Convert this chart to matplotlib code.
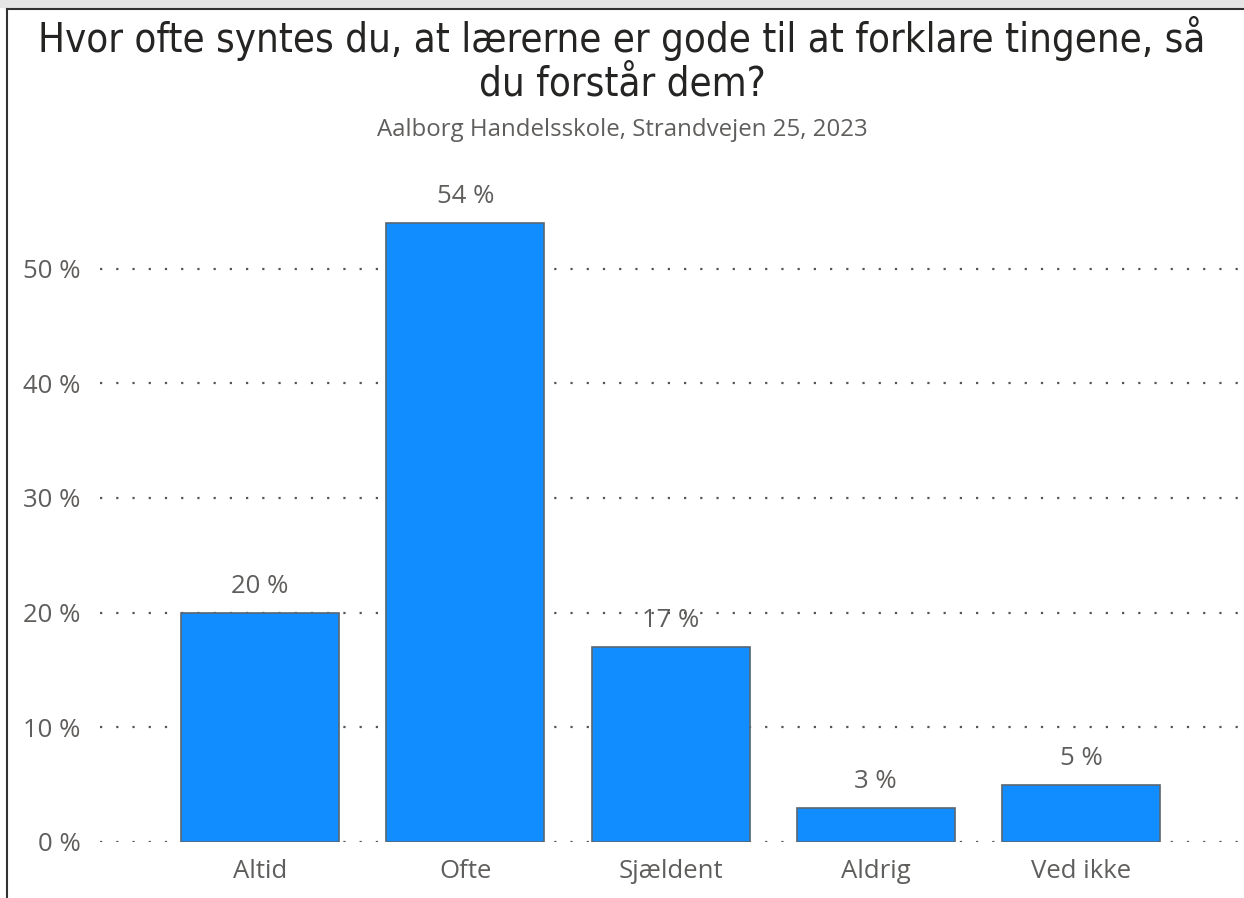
import matplotlib
matplotlib.use('Agg')
import matplotlib.pyplot as plt
from matplotlib.lines import Line2D
from matplotlib.patches import Rectangle

# data
categories = ["Altid", "Ofte", "Sjældent", "Aldrig", "Ved ikke"]
values = [20, 54, 17, 3, 5]
yticks = [0, 10, 20, 30, 40, 50]

title = "Hvor ofte syntes du, at lærerne er gode til at forklare tingene, så\ndu forstår dem?"
subtitle = "Aalborg Handelsskole, Strandvejen 25, 2023"

plt.rcParams['font.family'] = ['Open Sans', 'DejaVu Sans']
grey = "#605E5C"

fig = plt.figure(figsize=(12.44, 8.98), dpi=100)
ax = fig.add_axes([0.0804, 0.0624, 0.9164, 0.7406])

x = range(len(categories))
ax.bar(x, values, width=0.77, color="#118DFF", edgecolor="#5A6670", linewidth=1.2, zorder=3)
for i, v in enumerate(values):
    ax.annotate("%d %%" % v, (i, v), xytext=(0, 19), textcoords="offset points",
                ha="center", va="center", fontsize=18.5, color=grey)

ax.set_xlim(-0.78, 4.775)
ax.set_ylim(0, 58)
ax.set_yticks(yticks)
ax.set_yticklabels(["%d %%" % t for t in yticks], fontsize=18.5, color=grey)
ax.set_xticks(list(x))
ax.set_xticklabels(categories, fontsize=18.5, color=grey)
ax.tick_params(length=0)
ax.tick_params(axis='x', pad=12)
ax.tick_params(axis='y', pad=14)
ax.grid(axis='y', color="#555555", linestyle=(0, (1, 6.3)), linewidth=1.6, zorder=0)
for s in ax.spines.values():
    s.set_visible(False)

# title block
fig.text(0.5, 0.933, title, ha="center", va="center", fontsize=28.8, color="#252423",
         family='DejaVu Sans', fontstretch='condensed', linespacing=1.12)
fig.text(0.5, 0.855, subtitle, ha="center", va="center", fontsize=17.3, color=grey)

# frame like the screenshot
fig.patches.append(Rectangle((0, 1 - 7 / 898), 1, 7 / 898, transform=fig.transFigure,
                             color="#E6E6E6", zorder=0))
fig.lines.append(Line2D([7 / 1244, 1], [1 - 9 / 898, 1 - 9 / 898], transform=fig.transFigure,
                        color="#333333", linewidth=1.5))
fig.lines.append(Line2D([7 / 1244, 7 / 1244], [0, 1 - 9 / 898], transform=fig.transFigure,
                        color="#333333", linewidth=1.5))

plt.savefig('out.png', dpi=100)
